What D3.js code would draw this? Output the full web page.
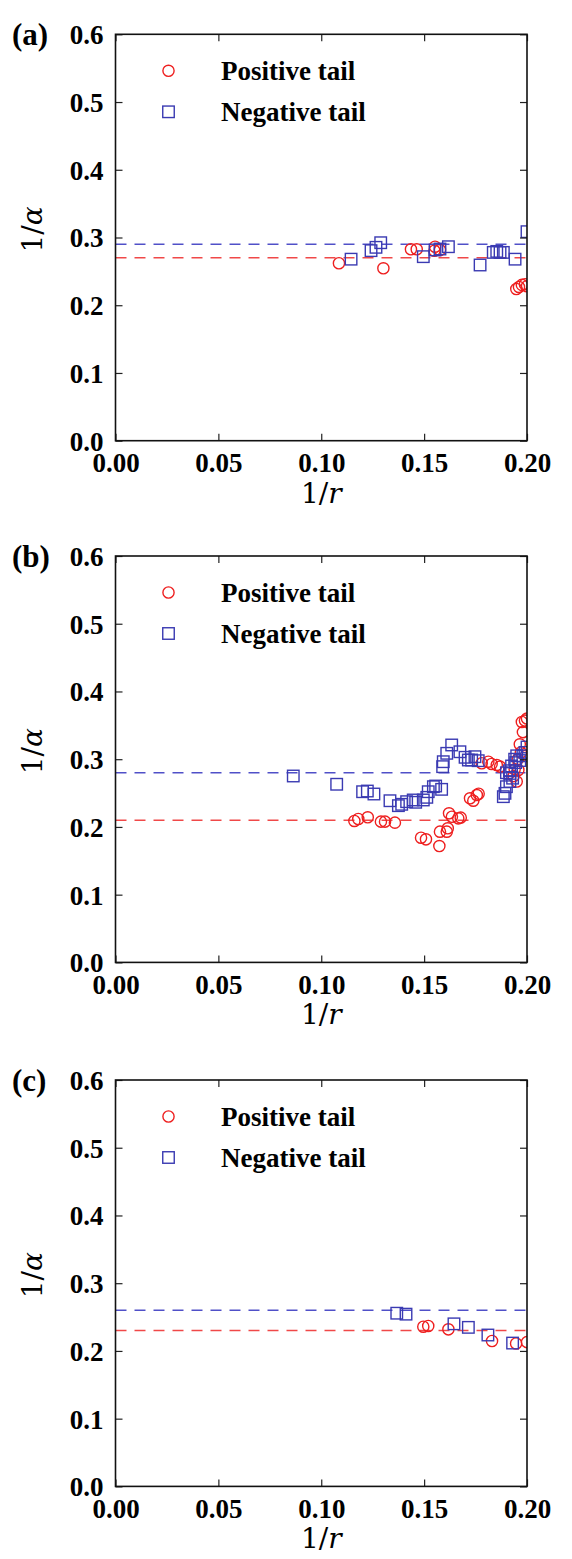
<!DOCTYPE html>
<html>
<head>
<meta charset="utf-8">
<script src="https://cdn.jsdelivr.net/npm/d3@7"></script>
<style>
body{margin:0;background:#fff;}
svg{display:block;}
</style>
</head>
<body>
<svg id="chart" width="572" height="1559"></svg>
<script>
// ---- data ----
const panelLabels = ["(a)", "(b)", "(c)"];
const xTicks = [0, 0.05, 0.10, 0.15, 0.20];
const yTicks = [0, 0.1, 0.2, 0.3, 0.4, 0.5, 0.6];
const legendLabels = ["Positive tail", "Negative tail"];

// reference (dashed) levels per panel: [positive, negative]
const refPos = [0.27, 0.21, 0.23];
const refNeg = [0.29, 0.28, 0.26];

// panel (a)
const aPos = [[0.1086,0.262],[0.1302,0.2545],[0.1436,0.2826],[0.1464,0.2826],[0.1553,0.2864],[0.155,0.2805],[0.1577,0.2815],
  [0.1948,0.224],[0.1961,0.227],[0.1975,0.230],[0.199,0.231],[0.2,0.228]];
const aNeg = [[0.1145,0.268],[0.1242,0.2806],[0.1266,0.2855],[0.1289,0.2923],[0.1496,0.2717],[0.1553,0.2816],[0.1577,0.283],
  [0.1618,0.2864],[0.1772,0.2594],[0.1836,0.278],[0.1853,0.2795],[0.1869,0.278],[0.1885,0.278],[0.1942,0.268],[0.2,0.3086]];

// panel (b)
const bPos = [[0.1161,0.2088],[0.118,0.2117],[0.1226,0.2142],[0.129,0.2078],[0.131,0.2078],[0.1358,0.2063],
  [0.1485,0.1841],[0.1509,0.1817],[0.1574,0.1718],[0.1577,0.193],[0.161,0.193],[0.1615,0.198],[0.1621,0.2201],[0.1635,0.215],
  [0.1666,0.2127],[0.1678,0.2137],[0.1723,0.2423],[0.1739,0.2387],[0.1756,0.2471],[0.1765,0.249],
  [0.178,0.294],[0.1812,0.2963],[0.1828,0.293],[0.1853,0.2915],[0.1869,0.289],
  [0.1935,0.275],[0.194,0.285],[0.195,0.267],[0.1958,0.284],[0.1955,0.30],[0.197,0.31],[0.1995,0.305],
  [0.1965,0.322],[0.198,0.34],[0.1975,0.355],[0.199,0.357],[0.2,0.36]];
const bNeg = [[0.0864,0.2752],[0.1075,0.263],[0.1201,0.252],[0.1224,0.253],[0.1256,0.2486],[0.1334,0.2387],
  [0.1375,0.2314],[0.1391,0.2334],[0.1415,0.2373],[0.1447,0.2398],[0.1459,0.2364],[0.1496,0.2398],[0.1513,0.2437],
  [0.152,0.252],[0.1545,0.2594],[0.1556,0.2604],[0.1585,0.2555],[0.159,0.289],[0.1593,0.2963],[0.161,0.3087],
  [0.1634,0.321],[0.1674,0.311],[0.1699,0.3028],[0.1715,0.2988],[0.1731,0.2988],[0.1747,0.3037],[0.1763,0.2978],
  [0.1885,0.2447],[0.1893,0.2496],[0.19,0.2594],[0.1917,0.267],[0.19,0.28],[0.1917,0.279],[0.1915,0.283],
  [0.1925,0.29],[0.193,0.272],[0.194,0.30],[0.1945,0.295],[0.195,0.305],[0.1965,0.298],[0.198,0.305],
  [0.199,0.31],[0.2,0.318]];

// panel (c)
const cPos = [[0.1496,0.2358],[0.152,0.2368],[0.1618,0.2319],[0.183,0.2147],[0.1947,0.2110],[0.2,0.213]];
const cNeg = [[0.1367,0.2557],[0.1412,0.2543],[0.1645,0.240],[0.1715,0.2348],[0.181,0.2235],[0.193,0.2116]];

const panelPos = [aPos, bPos, cPos];
const panelNeg = [aNeg, bNeg, cNeg];

// ---- layout ----
const svg = d3.select("#chart");
const left = 115.5, right = 527, plotH = 406.4;
const tops = [34.3, 556, 1080];
const RED = "#ee1f1f", BLUE = "#3a3ab2";
const RED_LINE = "#f04848", BLUE_LINE = "#5050c8";
const FONT = "'Liberation Serif','Times New Roman',serif";

const x = d3.scaleLinear().domain([0, 0.2]).range([0, right - left]);
const y = d3.scaleLinear().domain([0, 0.6]).range([plotH, 0]);
const W = right - left;

panelLabels.forEach((lab, i) => {
  const g = svg.append("g").attr("transform", `translate(${left},${tops[i]})`);
  const cid = "clip" + i;
  g.append("clipPath").attr("id", cid).append("rect").attr("width", W).attr("height", plotH);

  // dashed reference lines
  const plot = g.append("g").attr("clip-path", `url(#${cid})`);
  plot.append("line").attr("x1", x(0)).attr("x2", x(0.2)).attr("y1", y(refNeg[i])).attr("y2", y(refNeg[i]))
    .attr("stroke", BLUE_LINE).attr("stroke-width", 1.5).attr("stroke-dasharray", "11,8");
  plot.append("line").attr("x1", x(0)).attr("x2", x(0.2)).attr("y1", y(refPos[i])).attr("y2", y(refPos[i]))
    .attr("stroke", RED_LINE).attr("stroke-width", 1.5).attr("stroke-dasharray", "11,8");

  // points
  const r = 5.6, s = 11.5;
  plot.selectAll("circle.pos").data(panelPos[i]).enter().append("circle")
    .attr("cx", d => x(d[0])).attr("cy", d => y(d[1])).attr("r", r)
    .attr("fill", "none").attr("stroke", RED).attr("stroke-width", 1.4);
  plot.selectAll("rect.neg").data(panelNeg[i]).enter().append("rect")
    .attr("x", d => x(d[0]) - s / 2).attr("y", d => y(d[1]) - s / 2).attr("width", s).attr("height", s)
    .attr("fill", "none").attr("stroke", BLUE).attr("stroke-width", 1.4);

  // axes: ticks inward, labels only on bottom/left
  const bottom = d3.axisBottom(x).tickValues(xTicks).tickSizeInner(-7).tickSizeOuter(0).tickFormat(d3.format(".2f")).tickPadding(12);
  const top = d3.axisTop(x).tickValues(xTicks).tickSizeInner(-7).tickSizeOuter(0).tickFormat("");
  const leftAx = d3.axisLeft(y).tickValues(yTicks).tickSizeInner(-7).tickSizeOuter(0).tickFormat(d3.format(".1f")).tickPadding(12);
  const rightAx = d3.axisRight(y).tickValues(yTicks).tickSizeInner(-7).tickSizeOuter(0).tickFormat("");

  const styleAx = sel => {
    sel.select(".domain").remove();
    sel.selectAll("line").attr("stroke", "#222").attr("stroke-width", 1.2);
    sel.selectAll("text").attr("font-family", FONT).attr("font-weight", "bold").attr("font-size", 27).attr("fill", "#000");
  };
  g.append("g").attr("transform", `translate(0,${plotH})`).call(bottom).call(styleAx)
    .selectAll("text").attr("dy", "0.71em");
  g.append("g").call(top).call(styleAx);
  g.append("g").call(leftAx).call(styleAx).selectAll("text").attr("dy", "0.35em");
  g.append("g").attr("transform", `translate(${W},0)`).call(rightAx).call(styleAx);

  // frame
  g.append("rect").attr("width", W).attr("height", plotH).attr("fill", "none")
    .attr("stroke", "#111").attr("stroke-width", 1.6);

  // legend
  const lg = g.append("g");
  lg.append("circle").attr("cx", 168.5 - left).attr("cy", 36.5).attr("r", r)
    .attr("fill", "none").attr("stroke", RED).attr("stroke-width", 1.4);
  lg.append("rect").attr("x", 168.5 - left - s / 2).attr("y", 77.5 - s / 2).attr("width", s).attr("height", s)
    .attr("fill", "none").attr("stroke", BLUE).attr("stroke-width", 1.4);
  legendLabels.forEach((t, k) => {
    lg.append("text").attr("x", 221 - left).attr("y", 45.5 + k * 41).text(t)
      .attr("font-family", FONT).attr("font-weight", "bold").attr("font-size", 27).attr("fill", "#000");
  });

  // panel label
  svg.append("text").attr("x", 12).attr("y", tops[i] + 11).text(lab)
    .attr("font-family", FONT).attr("font-weight", "bold").attr("font-size", 31).attr("fill", "#000");

  // axis titles
  const xt = g.append("text").attr("x", W / 2).attr("y", plotH + 62).attr("text-anchor", "middle")
    .attr("font-family", "'DejaVu Serif',serif").attr("font-size", 28).attr("fill", "#000");
  xt.append("tspan").text("1/");
  xt.append("tspan").attr("font-style", "italic").text("r");

  const yt = g.append("text").attr("transform", `translate(${42 - left},${plotH / 2 - 8}) rotate(-90)`)
    .attr("text-anchor", "middle")
    .attr("font-family", "'DejaVu Serif',serif").attr("font-size", 28).attr("fill", "#000");
  yt.append("tspan").text("1/");
  yt.append("tspan").attr("font-style", "italic").text("α");
});
</script>
</body>
</html>
